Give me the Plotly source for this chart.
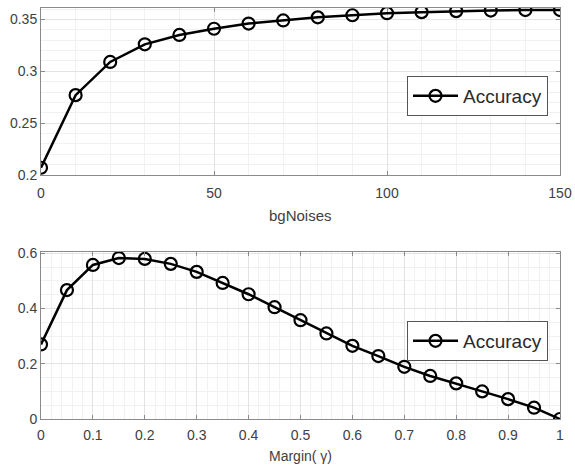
import plotly.graph_objects as go

noise_x = [0, 10, 20, 30, 40, 50, 60, 70, 80, 90, 100, 110, 120, 130, 140, 150]
noise_acc = [0.207, 0.277, 0.309, 0.326, 0.335, 0.341, 0.346, 0.349, 0.352, 0.354,
             0.356, 0.357, 0.358, 0.3585, 0.359, 0.359]

margin_x = [0, 0.05, 0.1, 0.15, 0.2, 0.25, 0.3, 0.35, 0.4, 0.45, 0.5,
            0.55, 0.6, 0.65, 0.7, 0.75, 0.8, 0.85, 0.9, 0.95, 1.0]
margin_acc = [0.27, 0.467, 0.558, 0.583, 0.580, 0.562, 0.533, 0.493, 0.452, 0.405, 0.358,
              0.310, 0.265, 0.228, 0.189, 0.156, 0.129, 0.100, 0.072, 0.041, 0.0]

W, H = 575, 466
FONT = "Liberation Sans, Arial, sans-serif"

fig = go.Figure()
mk = dict(symbol="circle-open", size=12, color="black", line=dict(width=2.2, color="black"))
fig.add_trace(go.Scatter(x=noise_x, y=noise_acc, mode="lines+markers", name="Accuracy",
                         line=dict(color="black", width=2.5), marker=mk, showlegend=True,
                         xaxis="x", yaxis="y", legend="legend"))
fig.add_trace(go.Scatter(x=margin_x, y=margin_acc, mode="lines+markers", name="Accuracy",
                         line=dict(color="black", width=2.5), marker=mk, showlegend=True,
                         xaxis="x2", yaxis="y2", legend="legend2"))

def ax(rng, dtick, minor_dtick, domain, anchor, standoff=0):
    return dict(range=rng, dtick=dtick, domain=domain, anchor=anchor, automargin=False,
                showline=True, linecolor="#8a8a8a", linewidth=1, mirror="ticks",
                ticks="inside", ticklen=4, tickcolor="#8a8a8a", ticklabelstandoff=standoff,
                showgrid=True, gridcolor="#e3e3e3", gridwidth=1,
                minor=dict(dtick=minor_dtick, showgrid=True, gridcolor="#f1f1f1", gridwidth=1, ticks=""),
                zeroline=False, tickfont=dict(size=14, color="#404040", family=FONT))

xd = [41 / W, 560 / W]
leg = dict(xanchor="left", yanchor="top", itemwidth=45,
           bordercolor="#555555", borderwidth=1, bgcolor="white",
           font=dict(size=19, color="#2a2a2a", family=FONT))
fig.update_layout(
    width=W, height=H, margin=dict(l=0, r=0, t=0, b=0),
    paper_bgcolor="white", plot_bgcolor="white",
    xaxis=ax([0, 150], 50, 10, xd, "y", standoff=5),
    yaxis=ax([0.2, 0.361], 0.05, 0.01, [1 - 175 / H, 1 - 8 / H], "x"),
    xaxis2=ax([0, 1], 0.1, 0.02, xd, "y2", standoff=3),
    yaxis2=ax([0, 0.605], 0.2, 0.05, [1 - 419 / H, 1 - 252 / H], "x2"),
    legend=dict(leg, x=407 / W, y=1 - 76 / H),
    legend2=dict(leg, x=407 / W, y=1 - 321 / H),
    annotations=[
        dict(text="bgNoises", x=300 / W, y=1 - 215 / H, xref="paper", yref="paper",
             showarrow=False, font=dict(size=15, color="#404040", family=FONT)),
        dict(text="Margin( γ)", x=300 / W, y=1 - 446 / H, xref="paper", yref="paper",
             yanchor="top", showarrow=False, font=dict(size=14, color="#404040", family=FONT)),
    ],
)
fig.write_html("out.html")
